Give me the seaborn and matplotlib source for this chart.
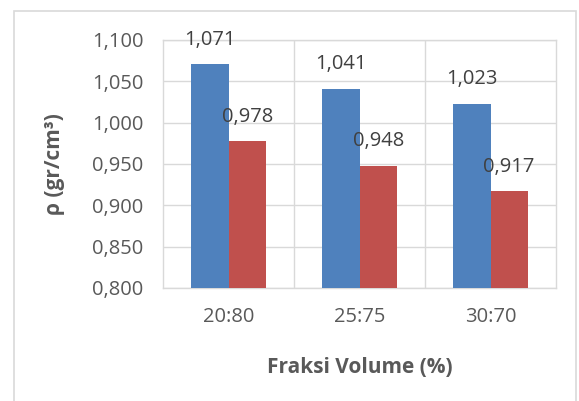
import matplotlib
matplotlib.use("Agg")
import matplotlib.pyplot as plt
import seaborn as sns
import pandas as pd
from matplotlib.ticker import FuncFormatter, FixedLocator
from matplotlib.patches import Rectangle

categories = ["20:80", "25:75", "30:70"]
series_names = ["A", "B"]
series_a = [1.071, 1.041, 1.023]
series_b = [0.978, 0.948, 0.917]
yticks = [0.800, 0.850, 0.900, 0.950, 1.000, 1.050, 1.100]

sns.set_theme(style="white")
plt.rcParams["font.family"] = ["Open Sans", "DejaVu Sans"]
text_color = "#595959"
grid_color = "#d9d9d9"

df = pd.DataFrame({
    "cat": categories * 2,
    "series": [series_names[0]] * 3 + [series_names[1]] * 3,
    "val": series_a + series_b,
})

fig = plt.figure(figsize=(5.79, 4.01), dpi=100)
fig.patches.append(Rectangle((14 / 579, -0.1), (576 - 14) / 579, 1.1 - 11 / 401,
                             transform=fig.transFigure, fill=False,
                             edgecolor=grid_color, linewidth=1.2, zorder=0))
ax = fig.add_axes([163 / 579, 1 - 288 / 401, (556 - 163) / 579, (288 - 40) / 401])

sns.barplot(data=df, x="cat", y="val", hue="series", order=categories,
            hue_order=series_names, palette=["#4F81BD", "#C0504D"],
            saturation=1, width=0.57, ax=ax, legend=False, zorder=3, linewidth=0)

ax.set_ylim(0.8, 1.1)
ax.set_xlim(-0.5, 2.5)
ax.yaxis.set_major_locator(FixedLocator(yticks))
ax.yaxis.set_major_formatter(FuncFormatter(lambda v, p: f"{v:.3f}".replace(".", ",")))
ax.xaxis.set_minor_locator(FixedLocator([0.5, 1.5]))
ax.grid(axis="y", which="major", color=grid_color, linewidth=1, zorder=0)
ax.grid(axis="x", which="minor", color=grid_color, linewidth=1, zorder=0)
ax.grid(axis="x", which="major", visible=False)
ax.set_axisbelow(True)
for s in ax.spines.values():
    s.set_color(grid_color)
    s.set_linewidth(1)
ax.tick_params(axis="both", which="both", length=0, labelsize=14.5, colors=text_color)
ax.tick_params(axis="y", pad=14)
ax.tick_params(axis="x", pad=14)

for cont in ax.containers:
    for bar in cont:
        h = bar.get_height()
        ax.annotate(f"{h:.3f}".replace(".", ","),
                    (bar.get_x() + bar.get_width() / 2, h),
                    xytext=(0, 17.5), textcoords="offset points",
                    ha="center", va="center", fontsize=14.5, color="#404040",
                    zorder=5)

ax.set_ylabel("ρ (gr/cm³)", fontsize=15, fontweight="bold", color=text_color)
ax.set_xlabel("Fraksi Volume (%)", fontsize=15, fontweight="bold", color=text_color)
ax.yaxis.set_label_coords((65 - 163) / 393, 0.5)
ax.xaxis.set_label_coords(0.5, (288 - 357) / 248)

fig.savefig("out.png", dpi=100)
